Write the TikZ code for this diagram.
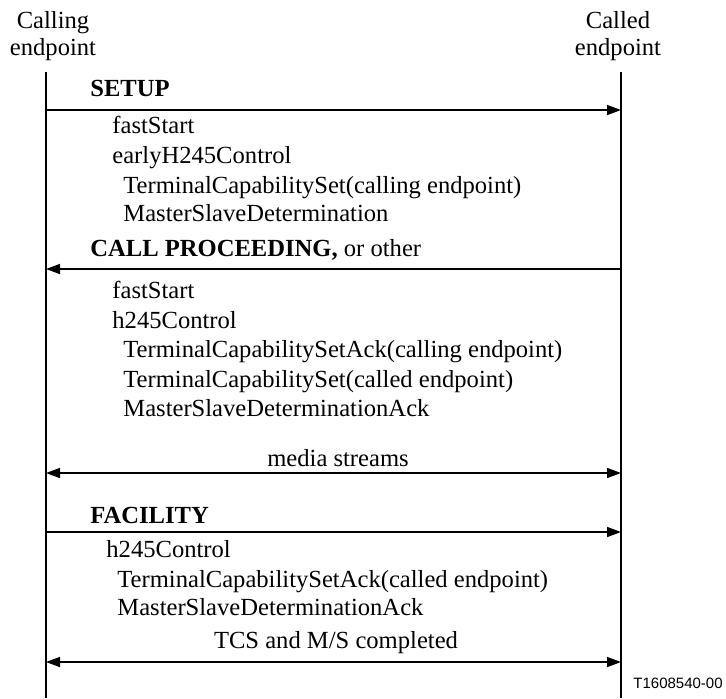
\documentclass[tikz,border=0pt]{standalone}
\usepackage{fontspec}
\setmainfont{Liberation Serif}
\newfontfamily\tagfont{Liberation Sans}
\usetikzlibrary{arrows.meta}
\begin{document}
\begin{tikzpicture}[x=0.5pt, y=-0.5pt,
    msg/.style={line width=0.75pt, -{Triangle[length=7pt,width=5pt]}},
    both/.style={line width=0.75pt, {Triangle[length=7pt,width=5pt]}-{Triangle[length=7pt,width=5pt]}},
    txt/.style={anchor=base west, inner sep=0pt, font=\fontsize{12.3}{14}\selectfont}]
  \useasboundingbox (0,0) rectangle (726,698);

  % Endpoints and lifelines
  \node[align=center, inner sep=0pt, font=\fontsize{12.3}{13.5}\selectfont, anchor=north] (caller) at (53,11) {Calling\\endpoint};
  \node[align=center, inner sep=0pt, font=\fontsize{12.3}{13.5}\selectfont, anchor=north] (callee) at (618,11) {Called\\endpoint};
  \coordinate (Atop) at (46,72);  \coordinate (Abot) at (46,698);
  \coordinate (Btop) at (621,72); \coordinate (Bbot) at (621,698);
  \draw[line width=0.75pt] (Atop) -- (Abot);
  \draw[line width=0.75pt] (Btop) -- (Bbot);

  % Messages
  \foreach \n/\y in {setup/110, proc/269, media/473, fac/532, done/662} {
    \coordinate (A\n) at (46,\y);
    \coordinate (B\n) at (621,\y);
  }
  \draw[msg] (Asetup) -- (Bsetup);
  \draw[msg] (Bproc) -- (Aproc);
  \draw[both] (Amedia) -- (Bmedia);
  \draw[msg] (Afac) -- (Bfac);
  \draw[both] (Adone) -- (Bdone);

  % Message names
  \node[txt] (setuplbl) at (90,96) {\textbf{SETUP}};
  \node[txt] (proclbl) at (90,256) {\textbf{CALL PROCEEDING,} or other};
  \node[txt] (faclbl) at (90,523) {\textbf{FACILITY}};
  \node[txt, anchor=base] (medialbl) at (338,466) {media streams};
  \node[txt, anchor=base] (donelbl) at (336,648) {TCS and M/S completed};

  % Contents
  \foreach \x/\y/\t [count=\i] in {
      112/133/fastStart, 112/163/earlyH245Control,
      123/193/{TerminalCapabilitySet(calling endpoint)},
      123/221/MasterSlaveDetermination,
      112/298/fastStart, 112/328/h245Control,
      123/357/{TerminalCapabilitySetAck(calling endpoint)},
      123/387/{TerminalCapabilitySet(called endpoint)},
      123/416/MasterSlaveDeterminationAck,
      106/557/h245Control,
      117/587/{TerminalCapabilitySetAck(called endpoint)},
      117/615/MasterSlaveDeterminationAck} {
    \node[txt] (item\i) at (\x,\y) {\t};
  }

  \node[anchor=base west, inner sep=0pt, font=\tagfont\fontsize{7.5}{8}\selectfont] (tag) at (633,688) {T1608540-00};
\end{tikzpicture}
\end{document}
